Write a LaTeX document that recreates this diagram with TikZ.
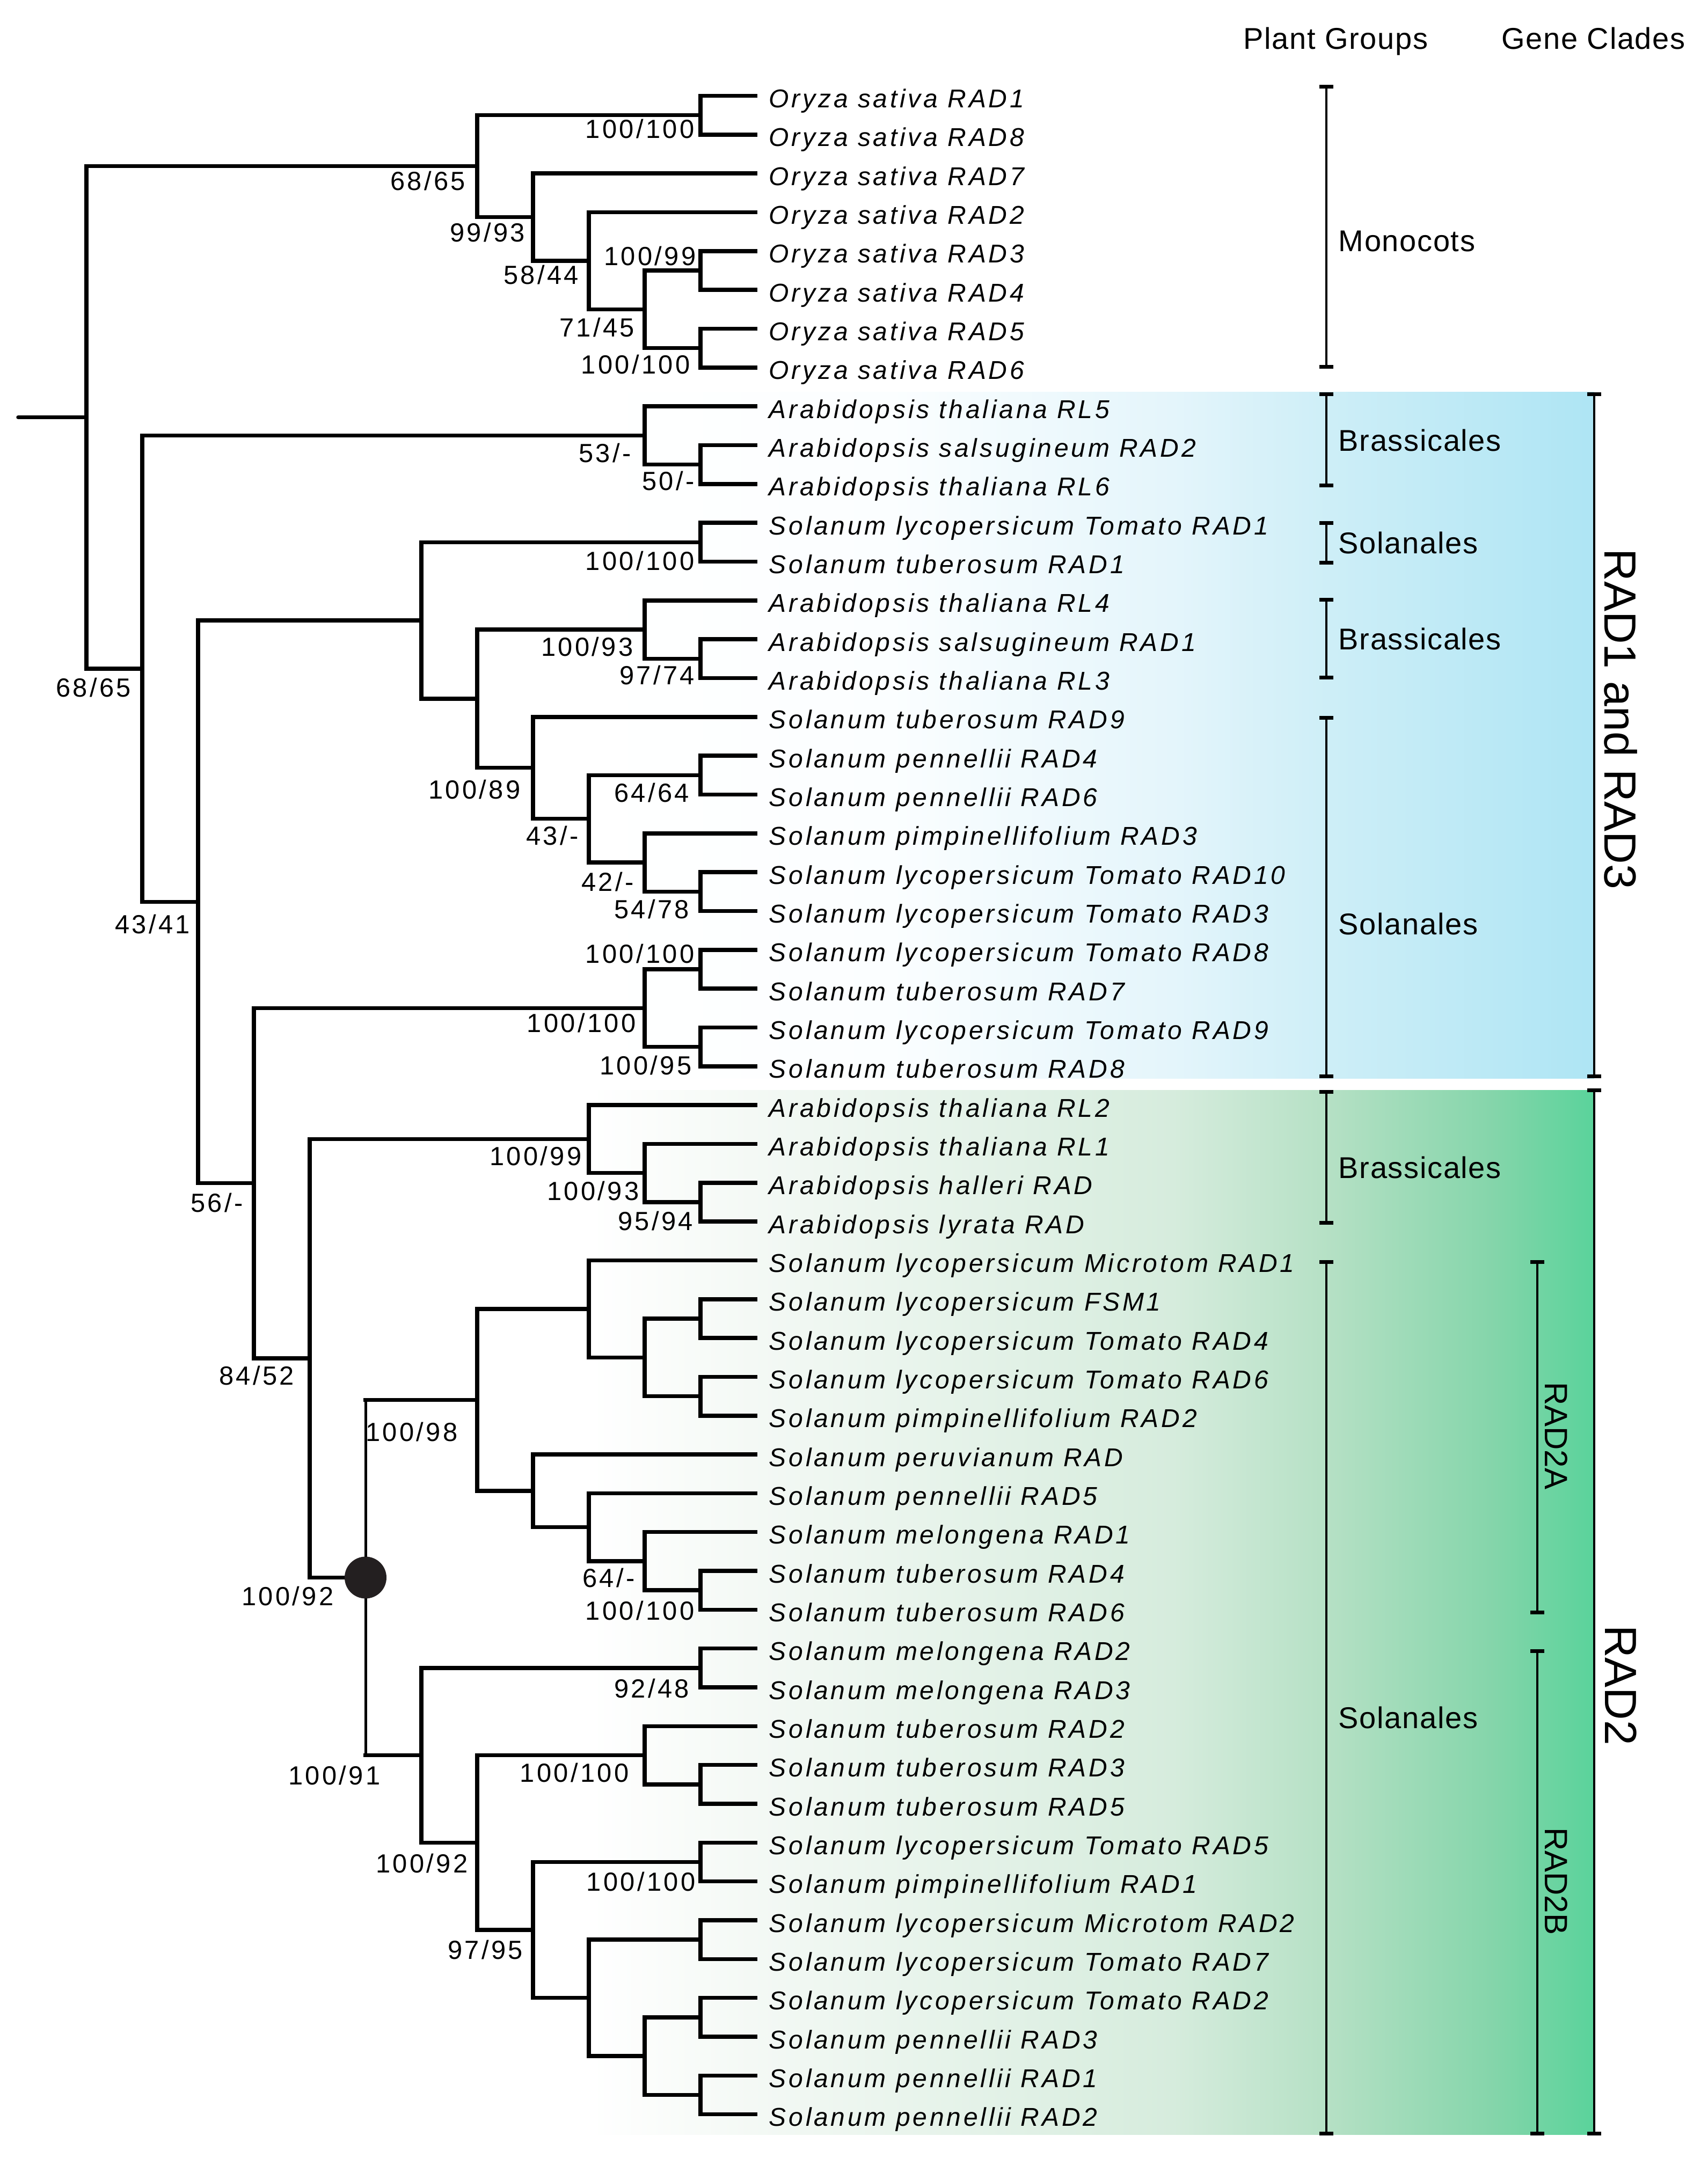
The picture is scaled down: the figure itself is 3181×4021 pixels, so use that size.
\documentclass[tikz,border=0pt]{standalone}
\usepackage{fontspec}
\setmainfont{Liberation Sans}
\newfontfamily\leaffont[LetterSpace=10]{Liberation Sans}
\newfontfamily\supfont[LetterSpace=9]{Liberation Sans}
\newfontfamily\grpfont[LetterSpace=3]{Liberation Sans}
\usetikzlibrary{calc}
\definecolor{bA}{RGB}{255,255,255}
\definecolor{bB}{RGB}{251,254,255}
\definecolor{bC}{RGB}{228,245,251}
\definecolor{bD}{RGB}{205,238,247}
\definecolor{bE}{RGB}{174,229,244}
\definecolor{gA}{RGB}{255,255,255}
\definecolor{gB}{RGB}{244,249,245}
\definecolor{gC}{RGB}{214,236,221}
\definecolor{gD}{RGB}{180,224,196}
\definecolor{gE}{RGB}{132,213,170}
\definecolor{gF}{RGB}{90,211,155}
\definecolor{dotc}{RGB}{35,31,32}
\pgfdeclarehorizontalshading{blueband}{100bp}{color(0bp)=(bA); color(25bp)=(bA); color(40bp)=(bB); color(54bp)=(bC); color(62bp)=(bD); color(75bp)=(bE); color(100bp)=(bE)}
\pgfdeclarehorizontalshading{greenband}{100bp}{color(0bp)=(gA); color(25bp)=(gA); color(33bp)=(gB); color(54bp)=(gC); color(62bp)=(gD); color(70bp)=(gE); color(75bp)=(gF); color(100bp)=(gF)}
\newcommand\mknode[4]{%
  \coordinate (#1m) at ($(#3)!0.5!(#4)$);
  \coordinate (#1) at (X#2 |- #1m);
  \draw[br] (#3) -| (#1) |- (#4);}
\newcommand\mkbrk[4]{%
  \coordinate (#1a) at (#2,#3);
  \coordinate (#1b) at (#2,#4);
  \draw[brline] (#1a) -- (#1b);
  \draw[capline] ($(#1a)+(-13,0)$) -- ($(#1a)+(13,0)$);
  \draw[capline] ($(#1b)+(-13,0)$) -- ($(#1b)+(13,0)$);}
\begin{document}
\begin{tikzpicture}[x=0.1mm,y=-0.1mm,
  br/.style={line width=0.75mm, black},
  brthin/.style={line width=0.5mm, black},
  brline/.style={line width=0.45mm, black},
  capline/.style={line width=0.7mm, black},
  leaf/.style={anchor=base west, inner sep=0pt, font=\leaffont\itshape\fontsize{13.66pt}{16pt}\selectfont},
  sup/.style={anchor=base, inner sep=0pt, font=\supfont\fontsize{13.9pt}{16pt}\selectfont},
  grp/.style={anchor=base west, inner sep=0pt, font=\grpfont\fontsize{15.93pt}{19pt}\selectfont},
  bigclade/.style={rotate=-90, inner sep=0pt, font=\fontsize{23.9pt}{28pt}\selectfont},
  subclade/.style={rotate=-90, inner sep=0pt, font=\fontsize{17.07pt}{20pt}\selectfont}]
\useasboundingbox (0,0) rectangle (3181,4021);
% coloured bands
\shade[shading=blueband] (1100,730) rectangle (2970,2009);
\shade[shading=greenband] (1100,2031) rectangle (2970,3977);
% level positions
\foreach \k in {0,...,11} {\coordinate (X\k) at ({161+104*\k},0);}
% leaves
\foreach \i/\t in {1/{Oryza sativa RAD1},2/{Oryza sativa RAD8},3/{Oryza sativa RAD7},4/{Oryza sativa RAD2},5/{Oryza sativa RAD3},6/{Oryza sativa RAD4},7/{Oryza sativa RAD5},8/{Oryza sativa RAD6},9/{Arabidopsis thaliana RL5},10/{Arabidopsis salsugineum RAD2},11/{Arabidopsis thaliana RL6},12/{Solanum lycopersicum Tomato RAD1},13/{Solanum tuberosum RAD1},14/{Arabidopsis thaliana RL4},15/{Arabidopsis salsugineum RAD1},16/{Arabidopsis thaliana RL3},17/{Solanum tuberosum RAD9},18/{Solanum pennellii RAD4},19/{Solanum pennellii RAD6},20/{Solanum pimpinellifolium RAD3},21/{Solanum lycopersicum Tomato RAD10},22/{Solanum lycopersicum Tomato RAD3},23/{Solanum lycopersicum Tomato RAD8},24/{Solanum tuberosum RAD7},25/{Solanum lycopersicum Tomato RAD9},26/{Solanum tuberosum RAD8},27/{Arabidopsis thaliana RL2},28/{Arabidopsis thaliana RL1},29/{Arabidopsis halleri RAD},30/{Arabidopsis lyrata RAD},31/{Solanum lycopersicum Microtom RAD1},32/{Solanum lycopersicum FSM1},33/{Solanum lycopersicum Tomato RAD4},34/{Solanum lycopersicum Tomato RAD6},35/{Solanum pimpinellifolium RAD2},36/{Solanum peruvianum RAD},37/{Solanum pennellii RAD5},38/{Solanum melongena RAD1},39/{Solanum tuberosum RAD4},40/{Solanum tuberosum RAD6},41/{Solanum melongena RAD2},42/{Solanum melongena RAD3},43/{Solanum tuberosum RAD2},44/{Solanum tuberosum RAD3},45/{Solanum tuberosum RAD5},46/{Solanum lycopersicum Tomato RAD5},47/{Solanum pimpinellifolium RAD1},48/{Solanum lycopersicum Microtom RAD2},49/{Solanum lycopersicum Tomato RAD7},50/{Solanum lycopersicum Tomato RAD2},51/{Solanum pennellii RAD3},52/{Solanum pennellii RAD1},53/{Solanum pennellii RAD2}}
{
  \coordinate (L\i) at (1411,{178.5+72.33*(\i-1)});
  \node[leaf] (T\i) at (1432,{178.5+72.33*(\i-1)+22}) {\t};
}
% Monocots
\mknode{a12}{11}{L1}{L2}
\mknode{a56}{11}{L5}{L6}
\mknode{a78}{11}{L7}{L8}
\mknode{nA10}{10}{a56}{a78}
\mknode{nA9}{9}{L4}{nA10}
\mknode{nA8}{8}{L3}{nA9}
\mknode{nMono}{7}{a12}{nA8}
% Brassicales 9-11
\mknode{a1011}{11}{L10}{L11}
\mknode{nB10}{10}{L9}{a1011}
% RAD1/RAD3 core
\mknode{a1213}{11}{L12}{L13}
\mknode{a1516}{11}{L15}{L16}
\mknode{nC10}{10}{L14}{a1516}
\mknode{a1819}{11}{L18}{L19}
\mknode{a2122}{11}{L21}{L22}
\mknode{nD10}{10}{L20}{a2122}
\mknode{nD9}{9}{a1819}{nD10}
\mknode{nD8}{8}{L17}{nD9}
\mknode{nD7}{7}{nC10}{nD8}
\mknode{nD6}{6}{a1213}{nD7}
\mknode{a2324}{11}{L23}{L24}
\mknode{a2526}{11}{L25}{L26}
\mknode{nE10}{10}{a2324}{a2526}
% Brassicales RAD2
\mknode{a2930}{11}{L29}{L30}
\mknode{nF10}{10}{L28}{a2930}
\mknode{nF9}{9}{L27}{nF10}
% RAD2A
\mknode{a3233}{11}{L32}{L33}
\mknode{a3435}{11}{L34}{L35}
\mknode{nG10}{10}{a3233}{a3435}
\mknode{nG9}{9}{L31}{nG10}
\mknode{a3940}{11}{L39}{L40}
\mknode{nH10}{10}{L38}{a3940}
\mknode{nH9}{9}{L37}{nH10}
\mknode{nH8}{8}{L36}{nH9}
\mknode{nG7}{7}{nG9}{nH8}
% RAD2B
\mknode{a4142}{11}{L41}{L42}
\mknode{a4445}{11}{L44}{L45}
\mknode{nJ10}{10}{L43}{a4445}
\mknode{a4647}{11}{L46}{L47}
\mknode{a4849}{11}{L48}{L49}
\mknode{a5051}{11}{L50}{L51}
\mknode{a5253}{11}{L52}{L53}
\mknode{nK10}{10}{a5051}{a5253}
\mknode{nK9}{9}{a4849}{nK10}
\mknode{nK8}{8}{a4647}{nK9}
\mknode{nK7}{7}{nJ10}{nK8}
\mknode{nK6}{6}{a4142}{nK7}
% RAD2 node with dot
\coordinate (n5m) at ($(nG7)!0.5!(nK6)$);
\coordinate (n5) at (X5 |- n5m);
\coordinate (n5t) at (nG7 -| n5);
\coordinate (n5b) at (nK6 -| n5);
\draw[br, line cap=rect] (nG7) -- (n5t);
\draw[br, line cap=rect] (nK6) -- (n5b);
\draw[brthin] (n5t) -- (n5b);
% backbone
\mknode{n4}{4}{nF9}{n5}
\mknode{n3}{3}{nE10}{n4}
\mknode{n2}{2}{nD6}{n3}
\mknode{n1}{1}{nB10}{n2}
\mknode{root}{0}{nMono}{n1}
\coordinate (rstub) at (34,0 |- root);
\draw[br, line cap=round] (rstub) -- (root);
\fill[dotc] (n5) circle [radius=39];
% support values
\foreach \n/\x/\y/\t in {1/1192/241/{100/100},2/797/338/{68/65},3/908/434/{99/93},4/1211/478/{100/99},5/1008/513/{58/44},6/1112/610/{71/45},7/1184/679/{100/100},8/1127/844/{53/-},9/1245/896/{50/-},10/1192/1045/{100/100},11/174/1281/{68/65},12/1094/1205/{100/93},13/1224/1258/{97/74},14/884/1471/{100/89},15/1214/1477/{64/64},16/1029/1557/{43/-},17/1132/1643/{42/-},18/1214/1694/{54/78},19/284/1722/{43/41},20/1192/1777/{100/100},21/1083/1906/{100/100},22/1203/1985/{100/95},23/998/2154/{100/99},24/404/2241/{56/-},25/1105/2219/{100/93},26/1221/2275/{95/94},27/478/2563/{84/52},28/767/2668/{100/98},29/536/2974/{100/92},30/1134/2940/{64/-},31/1192/3001/{100/100},32/1214/3146/{92/48},33/623/3308/{100/91},34/1070/3303/{100/100},35/786/3472/{100/92},36/1194/3506/{100/100},37/904/3633/{97/95}}
{
  \node[sup] (S\n) at (\x,{\y+17}) {\t};
}
% headers
\node[grp] (hPG) at (2316,92) {Plant Groups};
\node[grp] (hGC) at (2797,92) {Gene Clades};
% plant group brackets
\mkbrk{pg1}{2471}{162}{683}
\mkbrk{pg2}{2471}{734}{904}
\mkbrk{pg3}{2471}{974}{1048}
\mkbrk{pg4}{2471}{1117}{1262}
\mkbrk{pg5}{2471}{1337}{2005}
\mkbrk{pg6}{2471}{2034}{2278}
\mkbrk{pg7}{2471}{2351}{3975}
\node[grp] (g1) at (2493,469) {Monocots};
\node[grp] (g2) at (2493,840) {Brassicales};
\node[grp] (g3) at (2493,1031) {Solanales};
\node[grp] (g4) at (2493,1210) {Brassicales};
\node[grp] (g5) at (2493,1741) {Solanales};
\node[grp] (g6) at (2493,2195) {Brassicales};
\node[grp] (g7) at (2493,3220) {Solanales};
% gene clade brackets
\mkbrk{gc1}{2970}{734}{2005}
\mkbrk{gc2}{2970}{2031}{3975}
\mkbrk{gc3}{2864}{2351}{3004}
\mkbrk{gc4}{2864}{3076}{3975}
\node[bigclade] (c1) at (3019,1340) {RAD1 and RAD3};
\node[bigclade] (c2) at (3020,3140) {RAD2};
\node[subclade] (c3) at (2899,2675) {RAD2A};
\node[subclade] (c4) at (2899,3505) {RAD2B};
\end{tikzpicture}
\end{document}
